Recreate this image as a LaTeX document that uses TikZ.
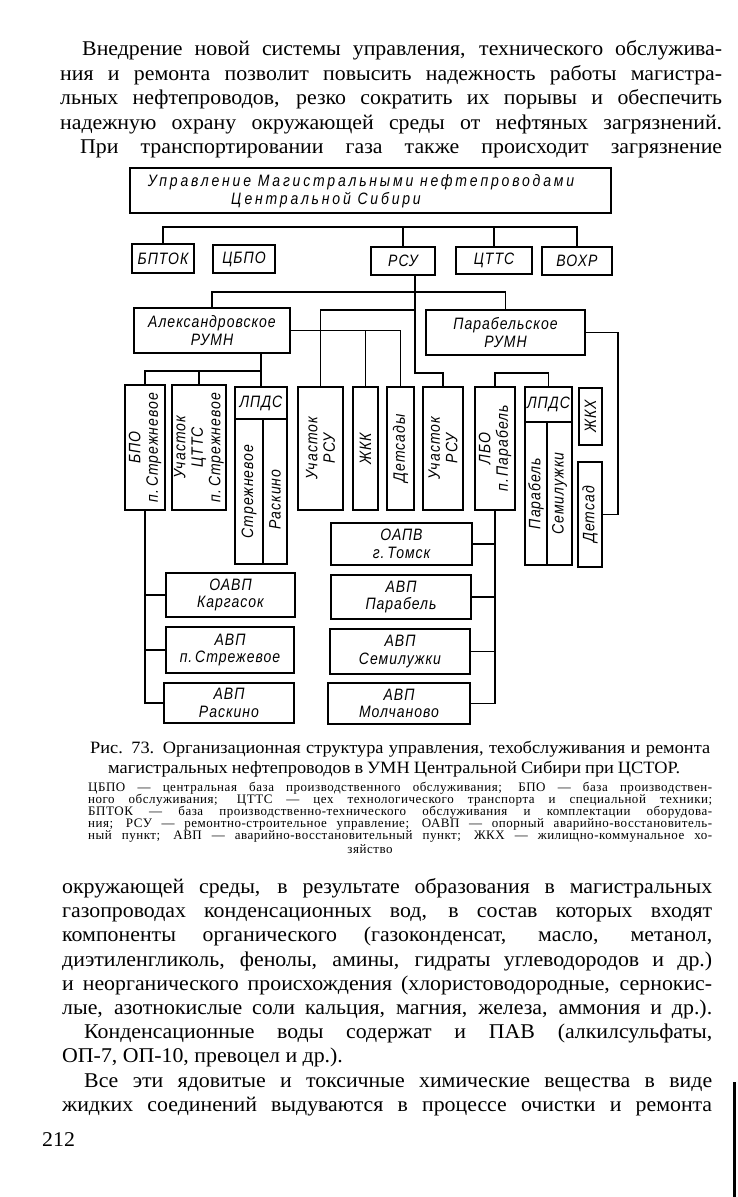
\documentclass[tikz,border=0pt]{standalone}
\usepackage{fontspec}
\usetikzlibrary{calc}
\newfontfamily\bodyfont{Liberation Serif}[FakeStretch=1.04]
\newfontfamily\captfont{Liberation Serif}[FakeStretch=1.06]
\newfontfamily\legfont{Liberation Serif}[LetterSpace=4]
\newfontfamily\lblfont{Liberation Sans}[FakeStretch=0.85, LetterSpace=6]
\newfontfamily\ttlfont{Liberation Sans}[FakeStretch=0.85, LetterSpace=17]
\newcommand{\bx}[5]{\node[box, minimum width={(#4-#2)*1pt}, minimum height={(#5-#3)*1pt}] (#1) at ({(#2+#4)/2},{(#3+#5)/2}) {};}
\newcommand{\jline}[4]{\node[body] at (#1,#2) {\makebox[#3pt][s]{#4}};}
\newcommand{\lline}[4]{\node[leg] at (#1,#2) {\makebox[#3pt][s]{#4}};}
\begin{document}
\begin{tikzpicture}[x=1pt,y=-1pt,
  box/.style={draw, rectangle, line width=1.4pt, inner sep=0pt, outer sep=0pt},
  conn/.style={line width=1.1pt},
  lbl/.style={font=\lblfont\itshape\fontsize{16.5}{17.5}\selectfont, align=center, inner sep=0pt},
  ttl/.style={font=\ttlfont\itshape\fontsize{16.5}{17}\selectfont, inner sep=0pt},
  body/.style={font=\bodyfont\fontsize{21}{24}\selectfont, anchor=base west, inner sep=0pt},
  capt/.style={font=\captfont\fontsize{17.3}{19}\selectfont, anchor=base west, inner sep=0pt},
  leg/.style={font=\legfont\fontsize{13}{12}\selectfont, anchor=base west, inner sep=0pt}]
\useasboundingbox (0,0) rectangle (738,1197);
\fill[white] (0,0) rectangle (738,1197);

% ---- text above figure
\jline{82}{55}{640}{Внедрение новой системы управления, технического обслужива-}
\jline{60}{80}{662}{ния и ремонта позволит повысить надежность работы магистра-}
\jline{60}{104}{662}{льных нефтепроводов, резко сократить их порывы и обеспечить}
\jline{60}{129}{662}{надежную охрану окружающей среды от нефтяных загрязнений.}
\jline{80}{153}{642}{При транспортировании газа также происходит загрязнение}

% ---- boxes
\bx{top}{130}{168}{611}{213}
\bx{bptok}{132}{244}{194}{273}
\bx{cbpo}{213}{245}{275}{273}
\bx{rsu}{371}{247}{435}{275}
\bx{cttc}{456}{247}{532}{274}
\bx{vohr}{542}{247}{612}{275}
\bx{alex}{134}{308}{290}{353}
\bx{parab}{426}{310}{585}{355}
\bx{bpo}{125}{385}{165}{510}
\bx{ucctts}{172}{385}{226}{510}
\bx{lpdsL}{235}{387}{287}{419}
\bx{strzL}{235}{419}{263}{564}
\bx{raskL}{263}{419}{287}{564}
\bx{ursu1}{298}{387}{343}{510}
\bx{zhkk}{353}{387}{378}{510}
\bx{detsady}{387}{387}{414}{510}
\bx{ursu2}{423}{387}{463}{510}
\bx{lbo}{475}{387}{515}{510}
\bx{lpdsR}{525}{387}{572}{422}
\bx{parabR}{525}{422}{547}{565}
\bx{semilR}{547}{422}{572}{565}
\bx{zhkh}{579}{388}{602}{445}
\bx{detsad}{578}{462}{602}{567}
\bx{tomsk}{331}{523}{472}{565}
\bx{avpParab}{331}{575}{471}{619}
\bx{avpSemil}{330}{629}{470}{674}
\bx{avpMolch}{328}{683}{470}{724}
\bx{kargasok}{166}{573}{295}{617}
\bx{avpStrezh}{166}{627}{294}{673}
\bx{avpRask}{164}{683}{294}{723}

% ---- labels
\node[ttl] at (361,182) {Управление Магистральными нефтепроводами};
\node[ttl] at (326,200) {Центральной Сибири};
\node[lbl] at (bptok) {БПТОК};
\node[lbl] at (cbpo) {ЦБПО};
\node[lbl] at (rsu) {РСУ};
\node[lbl] at (cttc) {ЦТТС};
\node[lbl] at (vohr) {ВОХР};
\node[lbl] at (alex) {Александровское\\РУМН};
\node[lbl] at (parab) {Парабельское\\РУМН};
\node[lbl,rotate=90] at (bpo) {БПО\\п.\,Стрежневое};
\node[lbl,rotate=90] at (ucctts) {Участок\\ЦТТС\\п.\,Стрежневое};
\node[lbl] at (lpdsL) {ЛПДС};
\node[lbl,rotate=90] at (strzL) {Стрежневое};
\node[lbl,rotate=90] at ($(raskL)+(0,8)$) {Раскино};
\node[lbl,rotate=90] at (ursu1) {Участок\\РСУ};
\node[lbl,rotate=90] at (zhkk) {ЖКК};
\node[lbl,rotate=90] at (detsady) {Детсады};
\node[lbl,rotate=90] at (ursu2) {Участок\\РСУ};
\node[lbl,rotate=90] at (lbo) {ЛБО\\п.\,Парабель};
\node[lbl] at (lpdsR) {ЛПДС};
\node[lbl,rotate=90] at (parabR) {Парабель};
\node[lbl,rotate=90] at (semilR) {Семилужки};
\node[lbl,rotate=90] at (zhkh) {ЖКХ};
\node[lbl,rotate=90] at (detsad) {Детсад};
\node[lbl] at (tomsk) {ОАПВ\\г.\,Томск};
\node[lbl] at (avpParab) {АВП\\Парабель};
\node[lbl] at (avpSemil) {АВП\\Семилужки};
\node[lbl] at (avpMolch) {АВП\\Молчаново};
\node[lbl] at (kargasok) {ОАВП\\Каргасок};
\node[lbl] at (avpStrezh) {АВП\\п.\,Стрежевое};
\node[lbl] at (avpRask) {АВП\\Раскино};

% ---- connectors
\coordinate (busY) at (0,227);
\coordinate (y292) at (0,292);
\coordinate (y310) at (0,310);
\coordinate (y371) at (0,371);
\coordinate (y373) at (0,373);
\draw[conn] (bptok.north) |- (vohr.north |- busY) -- (vohr.north);
\draw[conn] (rsu.north) -- (rsu.north |- busY);
\draw[conn] (cttc.north) -- (cttc.north |- busY);
\coordinate (rsuB) at ($(rsu.south)+(12,0)$);
\draw[conn] (alex.north) |- (parab.north |- y292) -- (parab.north);
\draw[conn] (rsuB) |- (ursu2.north |- y373) -- (ursu2.north);
\draw[conn] (rsuB |- y310) -| (ursu1.north);
\draw[conn] (alex.east) -| (detsady.north);
\draw[conn] (zhkk.north) -- (zhkk.north |- alex.east);
\draw[conn] (alex.south -| lpdsL.north) -- (lpdsL.north);
\draw[conn] (bpo.north) |- (lpdsL.north |- y371);
\draw[conn] (ucctts.north) -- (ucctts.north |- y371);
\draw[conn] (parab.east) -- ++(33,0) |- (detsad.east);
\draw[conn] (lbo.north) |- (lpdsR.north |- y373) -- (lpdsR.north);
\draw[conn] (bpo.south) |- (avpRask.west);
\draw[conn] (kargasok.west) -- (kargasok.west -| bpo.south);
\draw[conn] (avpStrezh.west) -- (avpStrezh.west -| bpo.south);
\draw[conn] (lbo.south) |- (avpMolch.east);
\draw[conn] (tomsk.east) -- (tomsk.east -| lbo.south);
\draw[conn] (avpParab.east) -- (avpParab.east -| lbo.south);
\draw[conn] (avpSemil.east) -- (avpSemil.east -| lbo.south);

% ---- caption
\node[capt] at (90,753) {\makebox[620pt][s]{Рис. 73. Организационная структура управления, техобслуживания и ремонта}};
\node[capt] at (108,773) {\makebox[572pt][s]{магистральных нефтепроводов в УМН Центральной Сибири при ЦСТОР.}};
\lline{88}{791}{624}{ЦБПО — центральная база производственного обслуживания; БПО — база производствен-}
\lline{88}{803}{624}{ного обслуживания; ЦТТС — цех технологического транспорта и специальной техники;}
\lline{88}{815}{624}{БПТОК — база производственно-технического обслуживания и комплектации оборудова-}
\lline{88}{827}{624}{ния; РСУ — ремонтно-строительное управление; ОАВП — опорный аварийно-восстановитель-}
\lline{88}{839}{624}{ный пункт; АВП — аварийно-восстановительный пункт; ЖКХ — жилищно-коммунальное хо-}
\node[leg, anchor=base] at (370,853) {зяйство};

% ---- text below figure
\jline{62}{893}{650}{окружающей среды, в результате образования в магистральных}
\jline{62}{917}{650}{газопроводах конденсационных вод, в состав которых входят}
\jline{62}{941}{650}{компоненты органического (газоконденсат, масло, метанол,}
\jline{62}{966}{650}{диэтиленгликоль, фенолы, амины, гидраты углеводородов и др.)}
\jline{62}{990}{650}{и неорганического происхождения (хлористоводородные, сернокис-}
\jline{62}{1014}{650}{лые, азотнокислые соли кальция, магния, железа, аммония и др.).}
\jline{84}{1038}{628}{Конденсационные воды содержат и ПАВ (алкилсульфаты,}
\node[body] at (62,1062) {ОП-7, ОП-10, превоцел и др.).};
\jline{84}{1087}{628}{Все эти ядовитые и токсичные химические вещества в виде}
\jline{62}{1111}{650}{жидких соединений выдуваются в процессе очистки и ремонта}
\node[body] at (42,1146) {212};
\draw[line width=3pt] (734,1082) -- (734,1197);
\end{tikzpicture}
\end{document}
